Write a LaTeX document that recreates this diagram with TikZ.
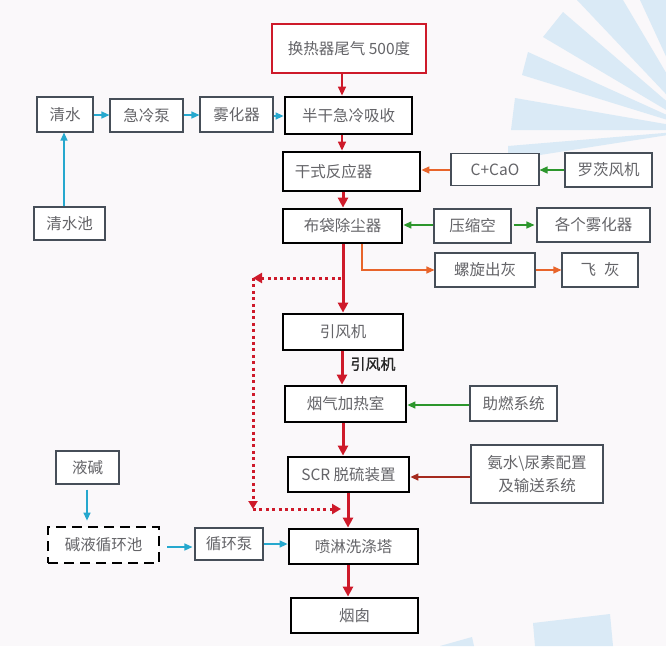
\documentclass[tikz,border=0pt]{standalone}
\usepackage{fontspec}
\setmainfont{Noto Sans CJK SC}
\newfontfamily\boldcjk[FakeBold=1.2]{Noto Sans CJK SC}
\usetikzlibrary{arrows.meta}
\definecolor{bgc}{RGB}{250,248,250}
\definecolor{rayc}{RGB}{218,234,246}
\definecolor{boxc}{RGB}{70,78,88}
\definecolor{txtc}{RGB}{100,100,104}
\definecolor{redc}{RGB}{206,26,42}
\definecolor{cyanc}{RGB}{38,168,206}
\definecolor{orangec}{RGB}{232,100,42}
\definecolor{greenc}{RGB}{44,150,44}
\definecolor{brownc}{RGB}{165,42,30}
\newcommand\myfs{\fontsize{15.5}{23}\selectfont}
\tikzset{
  box/.style={draw=boxc, line width=1.1pt, fill=white, inner sep=0pt, text=txtc, font=\myfs, align=center},
  tbox/.style={box, draw=black, line width=2.8pt},
  rbox/.style={box, draw=redc, line width=2.6pt},
  dbox/.style={tbox, dash pattern=on 10pt off 6pt},
  thinar/.style={line width=1.3pt, -{Triangle[length=8pt,width=7pt]}},
  cyanar/.style={thinar, draw=cyanc},
  orangear/.style={thinar, draw=orangec},
  greenar/.style={thinar, draw=greenc},
  brownar/.style={thinar, draw=brownc},
  redthin/.style={line width=1.5pt, draw=redc, -{Triangle[length=9pt,width=8pt]}},
  redthick/.style={line width=3pt, draw=redc, -{Triangle[length=10pt,width=10pt]}},
  dotred/.style={draw=redc, line width=3pt, dash pattern=on 3pt off 3.4pt},
}
\begin{document}
\begin{tikzpicture}[x=1pt,y=-1pt]
\useasboundingbox (0,0) rectangle (666,646);
\clip (0,0) rectangle (666,646);
\fill[bgc] (0,0) rectangle (666,646);
% background rays
\fill[rayc] (700,130) -- (577,0) -- (623,0) -- cycle;
\fill[rayc] (700,130) -- (563,12) -- (543,37) -- cycle;
\fill[rayc] (700,130) -- (528,52) -- (522,75) -- cycle;
\fill[rayc] (700,130) -- (515,98) -- (511,130) -- cycle;
\fill[rayc] (700,130) -- (508,146) -- (508,160) -- cycle;
\fill[rayc] (700,130) -- (640,0) -- (666,0) -- cycle;
\fill[rayc] (533,623) -- (610,614) -- (613,646) -- (535,646) -- cycle;
\fill[rayc] (440,646) -- (472,637) -- (474,646) -- cycle;

% column coordinates
\coordinate (c342) at (342,0);
\coordinate (c343) at (343,0);
\coordinate (c348) at (348,0);
\coordinate (c362) at (362,0);

% nodes
\node[rbox, minimum width=154pt, minimum height=49pt] (hx) at (349,48.5) {换热器尾气 500度};
\node[box, minimum width=56pt, minimum height=35pt] (qs) at (65,114.5) {清水};
\node[box, minimum width=73pt, minimum height=33pt] (jlb) at (146.5,115.5) {急冷泵};
\node[box, minimum width=73pt, minimum height=35pt] (whq) at (236.5,114.5) {雾化器};
\node[tbox, minimum width=127pt, minimum height=37pt] (bg) at (348.5,115.5) {半干急冷吸收};
\node[tbox, minimum width=137pt, minimum height=39pt] (gs) at (351.5,171.5) {干式反应器\hspace{36pt}};
\node[box, minimum width=88pt, minimum height=32pt] (cao) at (495,169.5) {C+CaO};
\node[box, minimum width=87pt, minimum height=34pt] (lc) at (608.5,170) {罗茨风机};
\node[box, minimum width=71pt, minimum height=33pt] (qsc) at (69.5,223.5) {清水池};
\node[tbox, minimum width=119pt, minimum height=34pt] (bd) at (342.5,226) {布袋除尘器};
\node[box, minimum width=77pt, minimum height=34pt] (ysk) at (472.5,226) {压缩空};
\node[box, minimum width=113pt, minimum height=34pt] (gg) at (593.5,225) {各个雾化器};
\node[box, minimum width=100pt, minimum height=34pt] (lx) at (485,270) {螺旋出灰};
\node[box, minimum width=76pt, minimum height=34pt] (fh) at (600,270) {飞\hspace{8pt}灰};
\node[tbox, minimum width=120pt, minimum height=36pt] (yf) at (343,332) {引风机};
\node[font=\boldcjk\fontsize{15}{18}\selectfont, text=black!85, inner sep=0pt] (yflabel) at (373,364) {引风机};
\node[tbox, minimum width=121pt, minimum height=36pt] (yq) at (345.5,404) {烟气加热室};
\node[box, minimum width=87pt, minimum height=35pt] (rs) at (513.5,403.5) {助燃系统};
\node[tbox, minimum width=121pt, minimum height=35pt] (scr) at (348.5,474.5) {SCR 脱硫装置};
\node[box, minimum width=132pt, minimum height=58pt] (as) at (537,474) {氨水\textbackslash 尿素配置\\及输送系统};
\node[box, minimum width=63pt, minimum height=33pt] (yj) at (87.5,467.5) {液碱};
\node[dbox, minimum width=111pt, minimum height=36pt] (jy) at (103.5,545) {碱液循环池};
\node[box, minimum width=68pt, minimum height=32pt] (xhb) at (229,544) {循环泵};
\node[tbox, minimum width=129pt, minimum height=35pt] (pl) at (353.5,546.5) {喷淋洗涤塔};
\node[tbox, minimum width=127pt, minimum height=35pt] (yc) at (354.5,615.5) {烟囱};

% main red flow
\draw[redthin] (hx.south -| c342) -- (bg.north -| c342);
\draw[redthin] (bg.south -| c342) -- (gs.north -| c342);
\draw[redthick] (gs.south -| c343) -- (bd.north -| c343);
\draw[redthick] (bd.south -| c343) -- (yf.north -| c343);
\draw[redthick] (yf.south -| c342) -- (yq.north -| c342);
\draw[redthick] (yq.south -| c343) -- (scr.north -| c343);
\draw[redthick] (scr.south -| c348) -- (pl.north -| c348);
\draw[redthick] (pl.south -| c348) -- (yc.north -| c348);

% bypass (dotted)
\coordinate (d0) at (341,278);
\coordinate (d1) at (253,278);
\coordinate (d2) at (253,509);
\coordinate (d3) at (341,509);
\draw[dotred, -{Triangle[length=9pt,width=10pt]}] (d0) -- (d1);
\draw[dotred, -{Triangle[length=8pt,width=9pt]}] (d1) -- (d2);
\draw[dotred, -{Triangle[length=9pt,width=10pt]}] (d2) -- (d3);

% water side
\draw[cyanar] (qs.east |- 0,115) -- (jlb.west |- 0,115);
\draw[cyanar] (jlb.east |- 0,115) -- (whq.west |- 0,115);
\draw[cyanar] (whq.east |- 0,116) -- (bg.west |- 0,116);
\coordinate (c64) at (64,0);
\draw[cyanar] (qsc.north -| c64) -- (qs.south -| c64);

% reactor feed
\draw[orangear] (cao.west |- 0,170) -- (gs.east |- 0,170);
\draw[greenar] (lc.west |- 0,170) -- (cao.east |- 0,170);

% compressed air
\draw[greenar] (ysk.west |- 0,225) -- (bd.east |- 0,225);
\draw[greenar, shorten <=2pt, shorten >=2pt] (ysk.east |- 0,225) -- (gg.west |- 0,225);

% ash
\draw[orangear, line width=1.1pt] (bd.south -| c362) |- (lx.west);
\draw[orangear] (lx.east) -- (fh.west);

% combustion
\draw[greenar] (rs.west |- 0,405) -- (yq.east |- 0,405);
% ammonia
\draw[brownar] (as.west |- 0,477) -- (scr.east |- 0,477);

% alkali
\coordinate (c87) at (87,0);
\draw[cyanar, shorten <=5pt, shorten >=5pt] (yj.south -| c87) -- (jy.north -| c87);
\draw[cyanar, shorten <=7pt, shorten >=2pt] (jy.east |- 0,547) -- (xhb.west |- 0,547);
\draw[cyanar] (xhb.east |- 0,544) -- (pl.west |- 0,544);
\end{tikzpicture}
\end{document}
